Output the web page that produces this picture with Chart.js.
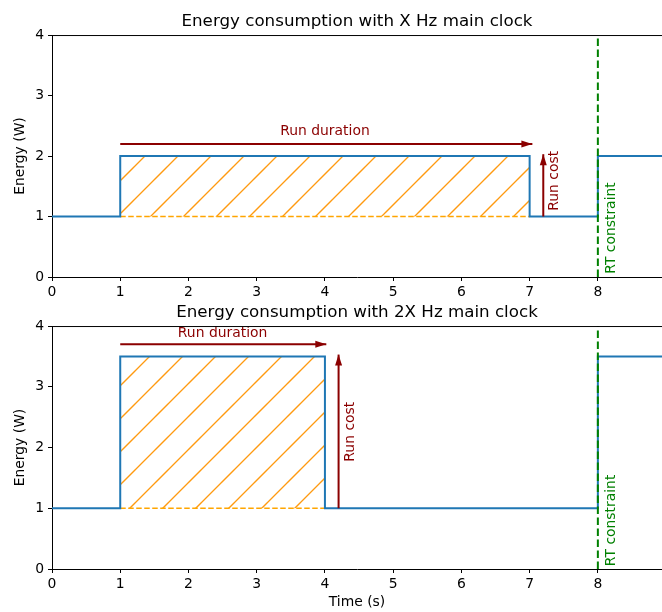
<!DOCTYPE html>
<html>
<head>
<meta charset="utf-8">
<script src="https://cdn.jsdelivr.net/npm/chart.js@4.4.1/dist/chart.umd.min.js"></script>
<style>
  body { margin: 0; width: 662px; height: 612px; overflow: hidden; background: #fff; }
  canvas { position: absolute; left: 0; }
</style>
</head>
<body>
<canvas id="fastTop" width="662" height="300" style="top:0"></canvas>
<canvas id="fastBottom" width="662" height="312" style="top:300px"></canvas>
<script>
// X Hz clock
const times1 = [0, 1, 7, 8, 9];
const power1 = [1, 2, 1, 2, 2];
const runTimes1 = [1, 7];
const runPower1 = [2, 2];
const durationX1 = [1, 7.04];
const durationY1 = [2.2, 2.2];
const costX1 = [7.2, 7.2];
const costY1 = [1, 2.03];

// 2X Hz clock
const times2 = [0, 1, 4, 8, 9];
const power2 = [1, 3.5, 1, 3.5, 3.5];
const runTimes2 = [1, 4];
const runPower2 = [3.5, 3.5];
const durationX2 = [1, 4.02];
const durationY2 = [3.7, 3.7];
const costX2 = [4.2, 4.2];
const costY2 = [1, 3.53];

const idlePower = [1, 1];
const deadlineX = [8, 8];
const deadlineY = [0, 4];
const xTicks = [0, 1, 2, 3, 4, 5, 6, 7, 8];

const FONT = "'DejaVu Sans', sans-serif";
Chart.defaults.font.family = FONT;
Chart.defaults.color = '#000';

const pts = (xs, ys) => xs.map((x, i) => ({ x, y: ys[i] }));

// matplotlib style "/" hatch
function hatch(shift) {
    const size = 33;
    const c = document.createElement('canvas');
    c.width = size; c.height = size;
    const g = c.getContext('2d');
    g.strokeStyle = '#ff9a10';
    g.lineWidth = 1.3;
    for (const k of [-size, 0, size, 2 * size]) {
        const s = shift + k;
        g.beginPath();
        g.moveTo(s + size, -size);
        g.lineTo(s - 2 * size, 2 * size);
        g.stroke();
    }
    return g.createPattern(c, 'repeat');
}

const arrowHeads = {
    id: 'arrowHeads',
    afterDatasetsDraw(chart) {
        const ctx = chart.ctx;
        chart.data.datasets.forEach((ds, i) => {
            if (!ds.arrow) return;
            const p = chart.getDatasetMeta(i).data;
            const a = p[p.length - 2], b = p[p.length - 1];
            ctx.save();
            ctx.translate(b.x, b.y);
            ctx.rotate(Math.atan2(b.y - a.y, b.x - a.x));
            ctx.fillStyle = ds.borderColor;
            ctx.beginPath();
            ctx.moveTo(0, 0);
            ctx.lineTo(-11, -3.5);
            ctx.lineTo(-11, 3.5);
            ctx.closePath();
            ctx.fill();
            ctx.restore();
        });
    }
};

const notes = {
    id: 'notes',
    afterDatasetsDraw(chart, args, opts) {
        const { ctx, scales: { x, y } } = chart;
        (opts.items || []).forEach(n => {
            ctx.save();
            ctx.translate(x.getPixelForValue(n.x), y.getPixelForValue(n.y));
            if (n.vertical) ctx.rotate(-Math.PI / 2);
            ctx.font = '13.9px ' + FONT;
            ctx.fillStyle = n.color;
            ctx.textAlign = 'center';
            ctx.textBaseline = 'middle';
            ctx.fillText(n.text, 0, 0);
            ctx.restore();
        });
    }
};

// top spine
const frame = {
    id: 'frame',
    afterDraw(chart) {
        const { ctx, chartArea: a } = chart;
        ctx.save();
        ctx.strokeStyle = '#000';
        ctx.lineWidth = 1;
        ctx.beginPath();
        ctx.moveTo(a.left, a.top + 0.5);
        ctx.lineTo(a.right, a.top + 0.5);
        ctx.stroke();
        ctx.restore();
    }
};

function makeChart(id, cfg) {
    return new Chart(document.getElementById(id), {
        type: 'line',
        data: {
            datasets: [
                { data: pts(cfg.times, cfg.power), stepped: 'before', borderColor: '#1f77b4', borderWidth: 2, order: 3 },
                { data: pts(cfg.runTimes, cfg.runPower), borderWidth: 0, borderColor: 'rgba(0,0,0,0)', fill: '+1', backgroundColor: hatch(cfg.hatchShift), order: 6 },
                { data: pts(cfg.runTimes, idlePower), borderColor: '#ffa500', borderWidth: 1.5, borderDash: [5.5, 2.5], order: 5 },
                { data: pts(deadlineX, deadlineY), borderColor: '#008000', borderWidth: 2, borderDash: [7.5, 3.5], order: 2 },
                { data: pts(cfg.durationX, cfg.durationY), borderColor: '#8b0000', borderWidth: 2, arrow: true, order: 1 },
                { data: pts(cfg.costX, cfg.costY), borderColor: '#8b0000', borderWidth: 2, arrow: true, order: 1 }
            ]
        },
        options: {
            responsive: false,
            animation: false,
            events: [],
            elements: { point: { radius: 0 }, line: { tension: 0 } },
            layout: { padding: 0 },
            scales: {
                x: {
                    type: 'linear', min: 0, max: 8.94,
                    afterBuildTicks: s => { s.ticks = xTicks.map(v => ({ value: v })); },
                    afterFit: s => { s.height = cfg.xHeight; },
                    ticks: { font: { size: 13.9 }, padding: 3, maxRotation: 0 },
                    grid: { drawOnChartArea: false, tickLength: 4, color: '#000' },
                    border: { color: '#000', width: 1 },
                    title: { display: !!cfg.xTitle, text: cfg.xTitle, font: { size: 13.9 }, padding: { top: 0, bottom: 1.7 } }
                },
                y: {
                    min: 0, max: 4,
                    afterFit: s => { s.width = 52; },
                    ticks: { stepSize: 1, font: { size: 13.9 }, padding: 4 },
                    grid: { drawOnChartArea: false, tickLength: 4, color: '#000' },
                    border: { color: '#000', width: 1 },
                    title: { display: true, text: 'Energy (W)', font: { size: 13.9 }, padding: { top: 12, bottom: 0 } }
                }
            },
            plugins: {
                legend: { display: false },
                tooltip: { enabled: false },
                title: {
                    display: true, text: cfg.title, fullSize: false,
                    font: { size: 16.7, weight: 'normal' }, color: '#000',
                    padding: cfg.titlePad
                },
                notes: { items: cfg.notes }
            }
        },
        plugins: [arrowHeads, notes, frame]
    });
}

makeChart('fastTop', {
    title: 'Energy consumption with X Hz main clock',
    titlePad: { top: 11.5, bottom: 3.5 },
    times: times1, power: power1, runTimes: runTimes1, runPower: runPower1,
    durationX: durationX1, durationY: durationY1, costX: costX1, costY: costY1,
    hatchShift: 4, xHeight: 23,
    notes: [
        { text: 'Run duration', x: 4.0, y: 2.41, color: '#8b0000' },
        { text: 'Run cost', x: 7.37, y: 1.59, color: '#8b0000', vertical: true },
        { text: 'RT constraint', x: 8.2, y: 0.81, color: '#008000', vertical: true }
    ]
});

makeChart('fastBottom', {
    title: 'Energy consumption with 2X Hz main clock',
    titlePad: { top: 2.5, bottom: 3.5 },
    times: times2, power: power2, runTimes: runTimes2, runPower: runPower2,
    durationX: durationX2, durationY: durationY2, costX: costX2, costY: costY2,
    hatchShift: 8, xHeight: 43, xTitle: 'Time (s)',
    notes: [
        { text: 'Run duration', x: 2.5, y: 3.88, color: '#8b0000' },
        { text: 'Run cost', x: 4.37, y: 2.26, color: '#8b0000', vertical: true },
        { text: 'RT constraint', x: 8.2, y: 0.8, color: '#008000', vertical: true }
    ]
});
</script>
</body>
</html>
